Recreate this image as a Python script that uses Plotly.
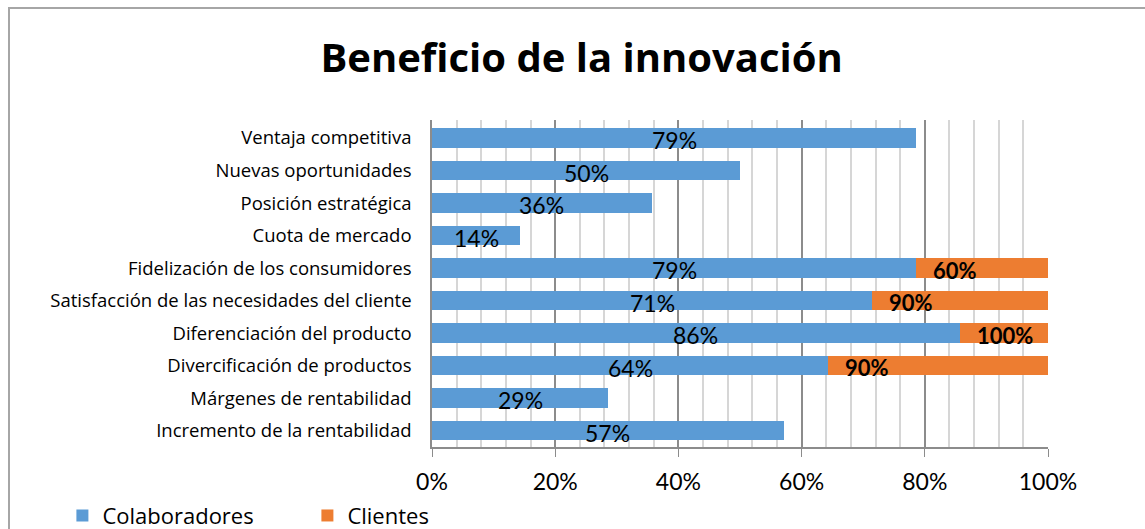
import plotly.graph_objects as go

categories = [
    "Ventaja competitiva",
    "Nuevas oportunidades",
    "Posición estratégica",
    "Cuota de mercado",
    "Fidelización de los consumidores",
    "Satisfacción de las necesidades del cliente",
    "Diferenciación del producto",
    "Divercificación de productos",
    "Márgenes de rentabilidad",
    "Incremento de la rentabilidad",
]
colaboradores = [0.7857, 0.5, 0.3571, 0.1429, 0.7857, 0.7143, 0.8571, 0.6429, 0.2857, 0.5714]
clientes = [0, 0, 0, 0, 0.6, 0.9, 1.0, 0.9, 0, 0]
tick_vals = [0, 0.2, 0.4, 0.6, 0.8, 1.0]
tick_text = ["0%", "20%", "40%", "60%", "80%", "100%"]

FONT = "Open Sans"
NUMFONT = "Lato"
BLUE = "#5B9BD5"
ORANGE = "#ED7D31"

fig = go.Figure()
fig.add_trace(go.Bar(
    y=categories, x=colaboradores, orientation="h", name="Colaboradores",
    marker=dict(color=BLUE, line=dict(width=0)), width=0.6,
))
fig.add_trace(go.Bar(
    y=categories, x=clientes, orientation="h", name="Clientes",
    marker=dict(color=ORANGE, line=dict(width=0)), width=0.6,
))

annotations = []
for cat, v in zip(categories, colaboradores):
    annotations.append(dict(
        x=v / 2, y=cat, xref="x", yref="y", text=f"{v:.0%}", showarrow=False,
        font=dict(family=NUMFONT, size=23, color="black"), xanchor="center", yshift=-2,
    ))
for cat, v, c in zip(categories, colaboradores, clientes):
    if c > 0:
        annotations.append(dict(
            x=v, y=cat, xref="x", yref="y", text=f"<b>{c:.0%}</b>", showarrow=False,
            font=dict(family=NUMFONT, size=22, color="black"), xanchor="left", xshift=15, yshift=-2,
        ))

fig.update_layout(
    barmode="stack",
    width=1145, height=529,
    margin=dict(l=432, r=97, t=120, b=82, autoexpand=False),
    paper_bgcolor="white", plot_bgcolor="white",
    title=dict(text="<b>Beneficio de la innovación</b>", x=0.508, xref="container",
               y=1 - 58 / 529, yref="container", xanchor="center", yanchor="middle",
               font=dict(family=FONT, size=40, color="black")),
    font=dict(family=FONT, color="black"),
    annotations=annotations,
    showlegend=True,
    legend=dict(orientation="h", x=-0.600, xanchor="left", y=-0.21, yanchor="middle",
                font=dict(family=FONT, size=22, color="black"),
                entrywidth=200, entrywidthmode="pixels", traceorder="normal"),
    xaxis=dict(range=[0, 1], tickvals=tick_vals, ticktext=tick_text,
               showgrid=True, gridcolor="#8c8c8c", gridwidth=1.5,
               minor=dict(dtick=0.04, showgrid=True, gridcolor="#d6d6d6", gridwidth=1.5),
               showline=True, linecolor="#8c8c8c", linewidth=1.5,
               ticks="outside", ticklen=8, tickcolor="#8c8c8c",
               tickfont=dict(family=NUMFONT, size=23, color="black"),
               ticklabelstandoff=6, zeroline=False, fixedrange=True),
    yaxis=dict(autorange="reversed", showline=True, linecolor="#8c8c8c", linewidth=1.5,
               tickfont=dict(family=FONT, size=18.5, color="black"),
               ticks="", ticklabelstandoff=15, showgrid=False, fixedrange=True),
    shapes=[dict(type="rect", xref="paper", yref="paper",
                 x0=(9 - 432) / 616, x1=1.3, y0=-0.4, y1=1 + (120 - 8) / 327,
                 line=dict(color="#a6a6a6", width=2), fillcolor="rgba(0,0,0,0)", layer="below")],
)

fig.write_html("out.html", config={"displayModeBar": False},
               post_script="document.body.style.margin='0px';")
